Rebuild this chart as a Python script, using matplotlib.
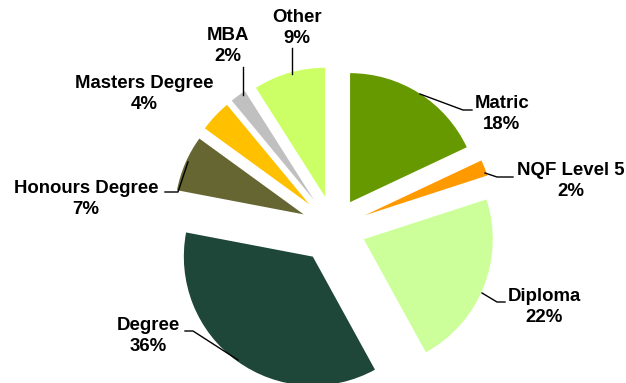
import matplotlib.pyplot as plt

# Data
categories = ["Matric", "NQF Level 5", "Diploma", "Degree",
              "Honours Degree", "Masters Degree", "MBA", "Other"]
shares = [18, 2, 22, 36, 7, 4, 2, 9]
colors = ["#669900", "#FF9900", "#CCFF99", "#1E4639",
          "#666633", "#FFC000", "#C0C0C0", "#CCFF66"]

# how far each slice is pulled out (pixels)
explode = [30, 33, 32, 36, 33, 34, 34, 32]

W, H = 626, 383
fig = plt.figure(figsize=(W / 100, H / 100), dpi=100)
ax = fig.add_axes([0, 0, 1, 1])

cx, cy, r = 334, H - 227.5, 129
ax.pie(shares, colors=colors, explode=explode, startangle=90,
       counterclock=False, radius=r, center=(cx, cy), frame=True,
       wedgeprops=dict(linewidth=0))
ax.set_xlim(0, W)
ax.set_ylim(0, H)
ax.set_aspect("equal")
ax.axis("off")

# label text centre and leader line (top-left origin, pixels)
label_pos = [(502, 114), (571, 181), (544, 307), (148, 336),
             (86, 199), (144, 94), (228, 46), (297, 28)]
leaders = [
    [(420, 94), (463, 110), (472, 110)],
    [(485, 173), (497, 177), (513, 177)],
    [(482, 293), (497, 302), (505, 302)],
    [(238, 360), (193, 331), (185, 331)],
    [(188, 162), (178, 192), (165, 192)],
    None,
    [(243, 95), (243, 67)],
    [(292, 74), (292, 48)],
]

for name, val, (lx, ly), pts in zip(categories, shares, label_pos, leaders):
    ax.text(lx, H - ly, f"{name}\n{val}%", ha="center", va="center",
            fontsize=13.4, fontweight="bold", family="Liberation Sans",
            linespacing=1.3, color="black")
    if pts:
        ax.plot([p[0] for p in pts], [H - p[1] for p in pts],
                color="black", linewidth=1.0)

plt.savefig("out.png", dpi=100)
plt.close()
